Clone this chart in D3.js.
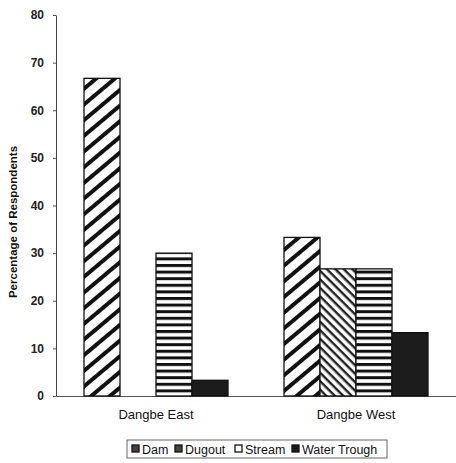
<!DOCTYPE html>
<html>
<head>
<meta charset="utf-8">
<script src="https://cdn.jsdelivr.net/npm/d3@7"></script>
<style>
  body { margin: 0; background: #fff; }
  text { font-family: Arial, "Liberation Sans", sans-serif; }
</style>
</head>
<body>
<svg></svg>
<script>
// data
let regions = ["Dangbe East", "Dangbe West"];
let sources = ["Dam", "Dugout", "Stream", "Water Trough"];
let damVals = [66.7, 33.3];
let dugoutVals = [0, 26.7];
let streamVals = [30, 26.7];
let troughVals = [3.3, 13.3];
let yTicks = [0, 10, 20, 30, 40, 50, 60, 70, 80];

let w = 456;
let h = 463;
let padL = 56;
let padR = 456;
let padT = 15;
let padB = 396;

let svg = d3.select('svg').attr('width', w).attr('height', h);

let seriesVals = [damVals, dugoutVals, streamVals, troughVals];
let rows = [];
regions.forEach((r, i) => {
  sources.forEach((s, j) => {
    rows.push({ region: r, source: s, value: seriesVals[j][i], k: j });
  });
});

// patterns for the hatching
let defs = svg.append('defs');
let p1 = defs.append('pattern').attr('id', 'pat0').attr('patternUnits', 'userSpaceOnUse')
  .attr('width', 12).attr('height', 12).attr('patternTransform', 'rotate(-40)');
p1.append('rect').attr('width', 12).attr('height', 12).attr('fill', '#fff');
p1.append('rect').attr('width', 12).attr('height', 4).attr('fill', '#111');

let p2 = defs.append('pattern').attr('id', 'pat1').attr('patternUnits', 'userSpaceOnUse')
  .attr('width', 6).attr('height', 6).attr('patternTransform', 'rotate(45)');
p2.append('rect').attr('width', 6).attr('height', 6).attr('fill', '#fff');
p2.append('rect').attr('width', 6).attr('height', 2.4).attr('fill', '#222');

let p3 = defs.append('pattern').attr('id', 'pat2').attr('patternUnits', 'userSpaceOnUse')
  .attr('width', 8).attr('height', 6.6);
p3.append('rect').attr('width', 8).attr('height', 6.6).attr('fill', '#fff');
p3.append('rect').attr('width', 8).attr('height', 3).attr('fill', '#111');

let fills = ['url(#pat0)', 'url(#pat1)', 'url(#pat2)', '#1c1c1c'];

let xSc = d3.scaleBand().domain(regions).range([padL, padR]);
let xIn = d3.scaleBand().domain(sources).range([28, 172]);
let ySc = d3.scaleLinear().domain([0, 80]).range([padB, padT]);

// y axis
let yAxis = d3.axisLeft(ySc).tickValues(yTicks).tickSize(3).tickSizeOuter(0);
let gy = svg.append('g')
  .attr('transform', 'translate(' + padL + ',0)')
  .call(yAxis);
gy.select('.domain').attr('stroke', '#444').attr('stroke-width', 1);
gy.selectAll('.tick line').attr('stroke', '#555');
gy.selectAll('.tick text').attr('font-size', 12).attr('font-weight', 'bold')
  .attr('fill', '#222').attr('x', -12);

// x axis
let xAxis = d3.axisBottom(xSc).tickSize(0).tickSizeOuter(0);
let gx = svg.append('g')
  .attr('transform', 'translate(0,' + padB + ')')
  .call(xAxis);
gx.select('.domain').attr('stroke', '#555').attr('stroke-width', 1);
gx.selectAll('.tick text').attr('font-size', 13).attr('fill', '#111').attr('dy', '1.5em');

// bars
svg.selectAll('rect.bar')
  .data(rows.filter(d => d.value > 0))
  .enter()
  .append('rect')
  .attr('class', 'bar')
  .attr('x', d => xSc(d.region) + xIn(d.source))
  .attr('width', xIn.bandwidth())
  .attr('y', d => ySc(d.value))
  .attr('height', d => padB - ySc(d.value))
  .attr('fill', d => fills[d.k])
  .attr('stroke', '#111')
  .attr('stroke-width', 1.3);

// y title
svg.append('text')
  .attr('transform', 'translate(17,' + 222 + ') rotate(-90)')
  .attr('text-anchor', 'middle')
  .attr('font-size', 11.5)
  .attr('font-weight', 'bold')
  .attr('fill', '#111')
  .text('Percentage of Respondents');

// legend
let lg = svg.append('g').attr('transform', 'translate(127,440)');
lg.append('rect').attr('width', 260).attr('height', 18)
  .attr('fill', 'none').attr('stroke', '#666').attr('stroke-width', 1);
let lx = [5, 48, 108, 165];
sources.forEach((s, i) => {
  let it = lg.append('g').attr('transform', 'translate(' + lx[i] + ',5)');
  it.append('rect').attr('width', 7).attr('height', 7)
    .attr('fill', i == 3 ? '#1c1c1c' : (i == 2 ? '#fff' : '#444'))
    .attr('stroke', '#111').attr('stroke-width', 1.3);
  it.append('text').attr('x', 10).attr('y', 8.5)
    .attr('font-size', 12.5).attr('fill', '#111').text(s);
});
</script>
</body>
</html>
